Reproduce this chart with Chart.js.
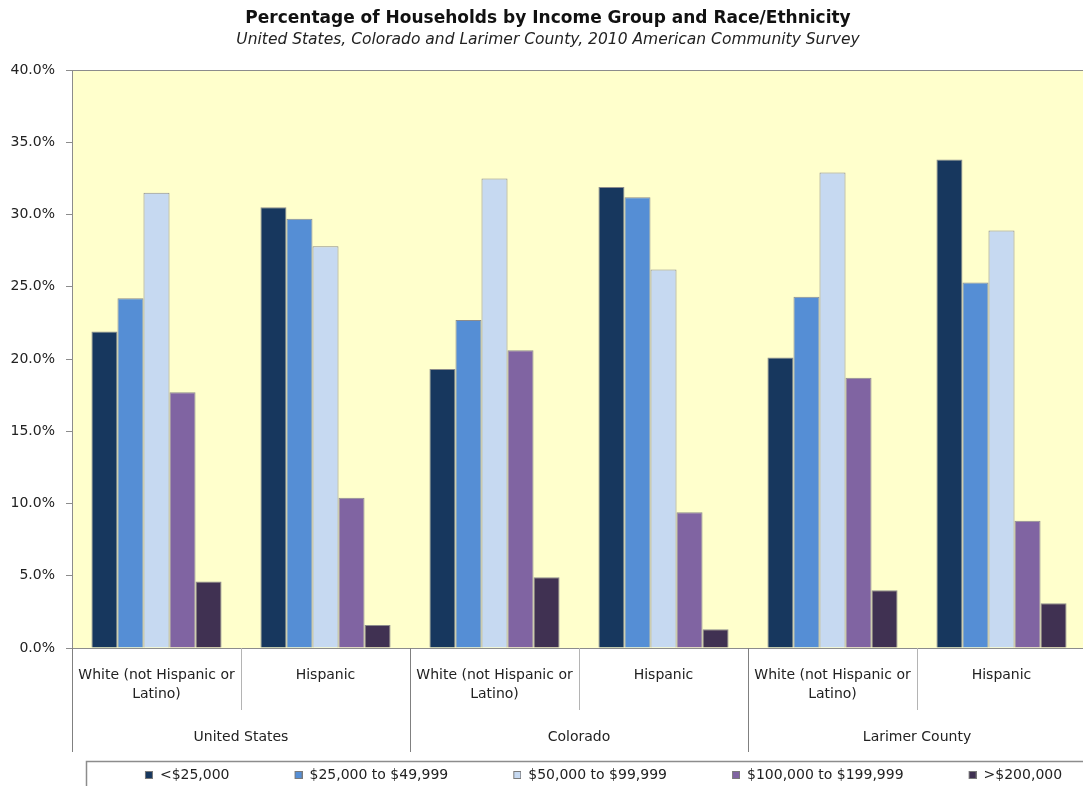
<!DOCTYPE html>
<html>
<head>
<meta charset="utf-8">
<script src="https://cdn.jsdelivr.net/npm/chart.js@4.4.1/dist/chart.umd.min.js"></script>
<style>
  html, body { margin: 0; padding: 0; background: #ffffff; overflow: hidden; }
  canvas { display: block; }
</style>
</head>
<body>
<canvas id="chart" width="1098" height="792"></canvas>
<script>
// ---- Data ----
const regions = ['United States', 'Colorado', 'Larimer County'];
const ethnicities = [['White (not Hispanic or', 'Latino)'], 'Hispanic'];
const categories = [
  ethnicities[0], ethnicities[1],
  ethnicities[0], ethnicities[1],
  ethnicities[0], ethnicities[1]
];
const seriesNames = ['<$25,000', '$25,000 to $49,999', '$50,000 to $99,999', '$100,000 to $199,999', '>$200,000'];
const under25k      = [21.9, 30.5, 19.3, 31.9, 20.1, 33.8];
const from25to50k   = [24.2, 29.7, 22.7, 31.2, 24.3, 25.3];
const from50to100k  = [31.5, 27.8, 32.5, 26.2, 32.9, 28.9];
const from100to200k = [17.7, 10.4, 20.6,  9.4, 18.7,  8.8];
const over200k      = [ 4.6,  1.6,  4.9,  1.3,  4.0,  3.1];
const seriesValues = [under25k, from25to50k, from50to100k, from100to200k, over200k];

// ---- Styles ----
const FONT = "'DejaVu Sans', 'Liberation Sans', sans-serif";
const TEXT = '#222222';
const AXIS = '#8c8c8c';
const colors = ['#17375E', '#558ED5', '#C6D9F1', '#8064A2', '#403152'];

Chart.defaults.font.family = FONT;
Chart.defaults.color = TEXT;

// legend swatches (transparent lead-in, small square at right end)
const SW_W = 57, SQ = 6;
const swatches = colors.map(c => {
  const cv = document.createElement('canvas');
  cv.width = SW_W; cv.height = SQ + 2;
  const g = cv.getContext('2d');
  g.fillStyle = c;
  g.fillRect(SW_W - SQ - 1, 1, SQ, SQ);
  g.strokeStyle = '#7a7a7a';
  g.lineWidth = 1;
  g.strokeRect(SW_W - SQ - 1.5, 0.5, SQ + 1, SQ + 1);
  return cv;
});

const framePlugin = {
  id: 'frame',
  beforeDraw(chart) {
    const {ctx, chartArea: a} = chart;
    ctx.save();
    ctx.fillStyle = '#FFFFCC';
    ctx.fillRect(a.left, a.top, a.right - a.left, a.bottom - a.top);
    ctx.strokeStyle = AXIS;
    ctx.lineWidth = 1;
    ctx.strokeRect(Math.round(a.left) + 0.5, Math.round(a.top) + 0.5,
                   Math.round(a.right - a.left), Math.round(a.bottom - a.top));
    ctx.restore();
  },
  afterDraw(chart) {
    const {ctx, chartArea: a, scales} = chart;
    const x = scales.x, x2 = scales.x2;
    const n = categories.length;
    ctx.save();
    ctx.lineWidth = 1;
    for (let i = 0; i <= n; i++) {
      let px;
      if (i === 0) px = a.left;
      else if (i === n) px = a.right;
      else px = (x.getPixelForValue(i - 1) + x.getPixelForValue(i)) / 2;
      const long = i % 2 === 0;
      ctx.strokeStyle = long ? '#808080' : '#b4b4b4';
      const yEnd = long ? x2.bottom : x.bottom - 9;
      ctx.beginPath();
      ctx.moveTo(Math.round(px) + 0.5, a.bottom);
      ctx.lineTo(Math.round(px) + 0.5, yEnd);
      ctx.stroke();
    }
    const lg = chart.legend;
    ctx.strokeStyle = AXIS;
    ctx.lineWidth = 1.5;
    ctx.strokeRect(lg.left + 14.5, Math.round(lg.top + 9) + 0.5, chart.width, 60);
    ctx.restore();
  }
};

new Chart(document.getElementById('chart'), {
  type: 'bar',
  data: {
    labels: categories,
    datasets: seriesNames.map((name, i) => ({
      label: name,
      data: seriesValues[i],
      backgroundColor: colors[i],
      borderColor: AXIS,
      borderWidth: 1,
      barPercentage: 1.0,
      categoryPercentage: 0.77
    }))
  },
  options: {
    responsive: false,
    animation: false,
    layout: { padding: { left: 10, right: 12, top: 0, bottom: 0 } },
    plugins: {
      title: {
        display: true,
        text: 'Percentage of Households by Income Group and Race/Ethnicity',
        color: '#111111',
        font: { family: FONT, size: 17, weight: 'bold', lineHeight: 1.2 },
        padding: { top: 8, bottom: 2 }
      },
      subtitle: {
        display: true,
        text: 'United States, Colorado and Larimer County, 2010 American Community Survey',
        color: TEXT,
        font: { family: FONT, size: 15.5, style: 'italic', lineHeight: 1.2 },
        padding: { top: 0, bottom: 21 }
      },
      legend: {
        position: 'bottom',
        fullSize: false,
        labels: {
          color: TEXT,
          font: { family: FONT, size: 14 },
          usePointStyle: true,
          pointStyleWidth: SW_W,
          padding: 16,
          generateLabels(chart) {
            const items = Chart.defaults.plugins.legend.labels.generateLabels(chart);
            items.forEach((it, i) => { it.pointStyle = swatches[i]; });
            return items;
          }
        }
      },
      tooltip: { enabled: false }
    },
    scales: {
      x: {
        type: 'category',
        position: 'bottom',
        weight: 0,
        offset: true,
        grid: { display: false },
        border: { display: true, color: AXIS, width: 1 },
        ticks: {
          color: TEXT,
          font: { family: FONT, size: 14, lineHeight: 1.335 },
          padding: 10,
          autoSkip: false,
          maxRotation: 0,
          minRotation: 0
        },
        afterFit(s) { s.height = 71; }
      },
      x2: {
        type: 'category',
        labels: regions,
        position: 'bottom',
        weight: 1,
        offset: true,
        grid: { display: false },
        border: { display: false },
        ticks: {
          color: TEXT,
          font: { family: FONT, size: 14, lineHeight: 1.335 },
          padding: 1.5,
          autoSkip: false,
          maxRotation: 0,
          minRotation: 0
        },
        afterFit(s) { s.height = 33; }
      },
      y: {
        min: 0,
        max: 40,
        grid: {
          display: true,
          drawOnChartArea: false,
          drawTicks: true,
          tickLength: 6,
          tickColor: AXIS,
          color: AXIS
        },
        border: { display: true, color: AXIS, width: 1 },
        ticks: {
          stepSize: 5,
          color: TEXT,
          padding: 11,
          font: { family: FONT, size: 14 },
          callback: v => Number(v).toFixed(1) + '%'
        },
        afterFit(s) { s.width = 62; }
      }
    }
  },
  plugins: [framePlugin]
});
</script>
</body>
</html>
